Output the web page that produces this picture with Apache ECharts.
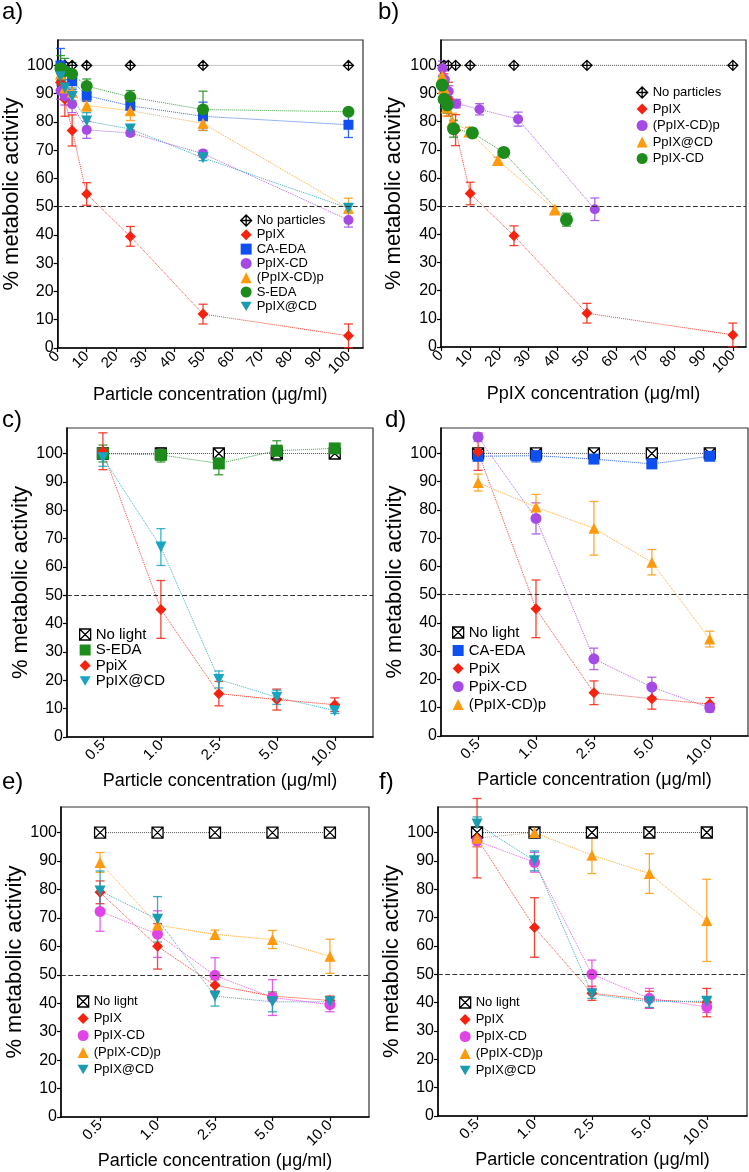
<!DOCTYPE html>
<html>
<head>
<meta charset="utf-8">
<script src="https://cdn.jsdelivr.net/npm/echarts@6/dist/echarts.min.js"></script>
<style>
  html, body { margin: 0; padding: 0; background: #fff; }
  #chart { width: 749px; height: 1172px; }
</style>
</head>
<body>
<div id="chart"></div>
<script>
// ---- data ----
const catLabels = ['0.5', '1.0', '2.5', '5.0', '10.0'];
const catIdx = [0, 1, 2, 3, 4];

// a) particle concentration
const aConc = [1, 2.5, 5, 10, 25, 50, 100];
const aNoParticles = [100, 100, 100, 100, 100, 100, 100];
const aPpIX = [94, 88, 77, 54.5, 39.5, 12, 4.3];
const aPpIXErr = [3, 6, 5.5, 4, 3.5, 3.5, 4.2];
const aCAEDA = [100, 98, 94.4, 89.3, 85.7, 82, 79];
const aCAEDAErr = [6, 3, 3, 2, 3, 5, 4.5];
const aPpIXCD = [91, 89, 86.3, 77.2, 76.1, 68.8, 45.3];
const aPpIXCDErr = [3, 3, 3, 3, 1, 1.2, 2.5];
const aPpIXCDp = [97, 92, 90.5, 85.8, 84, 79.5, 49.5];
const aPpIXCDpErr = [3, 3, 3, 2, 3.5, 2.5, 3.5];
const aSEDA = [99, 98, 97, 92.7, 88.8, 84.4, 83.6];
const aSEDAErr = [4.5, 4.5, 4, 2.5, 2.3, 6.5, 1];
const aPpIXatCD = [96, 92, 89, 80.3, 77.5, 67.3, 49.5];
const aPpIXatCDErr = [3, 3, 3, 3, 1.5, 1, 1.5];

// b) PpIX concentration
const bConcPpIX = [1, 2.5, 5, 10, 25, 50, 100];
const bConcCDp = [0.53, 1.32, 2.64, 5.27, 13.2, 26.4, 52.7];
const bConcAtCD = [0.39, 0.98, 1.95, 3.9, 9.75, 19.5, 39];
const bConcCD = [0.43, 1.08, 2.15, 4.3, 10.75, 21.5, 43];
const bNoParticles = [100, 100, 100, 100, 100, 100, 100];
const bPpIX = [94, 88, 77, 54.5, 39.5, 12, 4.3];
const bPpIXErr = [3, 6, 5.5, 4, 3.5, 3.5, 4.2];
const bPpIXCDp = [99, 95, 90.8, 86.4, 84.4, 80.9, 48.9];
const bPpIXCDpErr = [2.5, 3, 2, 1.5, 2, 2.5, 4];
const bPpIXatCD = [96, 92, 85, 80, 76.5, 66.4, 48.8];
const bPpIXatCDErr = [3, 3, 3, 3, 1.5, 1, 1];
const bPpIXCD = [93, 88, 86, 77.5, 76, 69.1, 45.2];
const bPpIXCDErr = [3, 3, 3, 3, 1, 1, 2.3];

// c)
const cNoLight = [100, 100, 100, 100, 100];
const cSEDA = [100, 99.5, 96.5, 101, 101.8];
const cSEDAErr = [3, 2.5, 4, 3.5, 1.5];
const cPpiX = [100.8, 45, 15.3, 13.2, 11.4];
const cPpiXErr = [6.5, 10.2, 4.3, 3.7, 2.4];
const cPpIXatCD = [98.5, 67, 20.3, 14, 9.3];
const cPpIXatCDErr = [3, 6.5, 3, 2.5, 1];

// d)
const dNoLight = [100, 100, 100, 100, 100];
const dCAEDA = [99, 99.2, 98, 96.3, 99];
const dCAEDAErr = [1.5, 2.2, 1.5, 1, 1];
const dPpiX = [100.5, 45, 15.3, 13.2, 11.3];
const dPpiXErr = [6.5, 10.2, 4.2, 3.7, 2.3];
const dPpiXCD = [105.8, 77, 27.3, 17.3, 10];
const dPpiXCDErr = [1.5, 5.5, 3.8, 3.5, 1.5];
const dPpIXCDp = [89.7, 81, 73.5, 61.5, 34.3];
const dPpIXCDpErr = [3, 4.5, 9.5, 4.5, 2.8];

// e)
const eNoLight = [100, 100, 100, 100, 100];
const ePpIX = [79, 60, 46.3, 42.5, 41];
const ePpIXErr = [4, 8, 2, 1, 1.5];
const ePpIXCD = [72.3, 64.3, 49.8, 42, 39.5];
const ePpIXCDErr = [7, 8.2, 6.2, 6.3, 2.5];
const ePpIXCDp = [89.5, 67.5, 64.2, 62.4, 56.5];
const ePpIXCDpErr = [3.5, 3.5, 1.5, 3.2, 6];
const ePpIXatCD = [79.5, 69.5, 42.5, 40.5, 40.5];
const ePpIXatCDErr = [7, 8, 3.5, 3.5, 1.5];

// f)
const fNoLight = [100, 100, 100, 100, 100];
const fPpIX = [98, 66.5, 43.3, 41, 40];
const fPpIXErr = [14, 10.5, 2.5, 3, 5];
const fPpIXCD = [97, 89.5, 50, 41.5, 38.5];
const fPpIXCDErr = [2, 3.5, 5, 3.5, 2];
const fPpIXCDp = [98, 100, 92, 85.5, 69];
const fPpIXCDpErr = [3, 1, 6.5, 7, 14.5];
const fPpIXatCD = [103, 90, 43, 40.3, 40.5];
const fPpIXatCDErr = [2.5, 3.5, 1.5, 2, 1];

const yTicks = [0, 10, 20, 30, 40, 50, 60, 70, 80, 90, 100];
const concTicks = [0, 10, 20, 30, 40, 50, 60, 70, 80, 90, 100];

// ---- styles ----
const FONT = 'Liberation Sans, Arial, sans-serif';
const RED = '#f5220f', BLUE = '#0d4ff0', PURPLE = '#a64ae6', ORANGE = '#ff9a0e',
  GREEN = '#1d8c1d', TEAL = '#1a9cb0', MAGENTA = '#e044e6';
const NP_ICON = 'path://M0,-10L10,0L0,10L-10,0Z M0,-10L0,10 M-10,0L10,0';
const NL_ICON = 'path://M-10,-10L10,-10L10,10L-10,10Z M-10,-10L10,10 M10,-10L-10,10';
const DOWN_TRI = 'path://M-10,-8L10,-8L0,9Z';

const panels = [
  {key: 'a', grid: {left: 55, top: 40, width: 308, height: 308}, xMin: 0, xMax: 105, xTicks: concTicks,
    xName: 'Particle concentration (μg/ml)', yGap: 33, xGap: 38,
    legend: {left: 240, top: 214, gap: 1.3, font: 13},
    sets: [
      {name: 'No particles', xs: aConc, ys: aNoParticles, color: '#000', symbol: NP_ICON, size: 10, open: true, line: '#777'},
      {name: 'PpIX', xs: aConc, ys: aPpIX, err: aPpIXErr, color: RED, symbol: 'diamond', size: 11},
      {name: 'CA-EDA', xs: aConc, ys: aCAEDA, err: aCAEDAErr, color: BLUE, symbol: 'rect', size: 10},
      {name: 'PpIX-CD', xs: aConc, ys: aPpIXCD, err: aPpIXCDErr, color: PURPLE, symbol: 'circle', size: 10},
      {name: '(PpIX-CD)p', xs: aConc, ys: aPpIXCDp, err: aPpIXCDpErr, color: ORANGE, symbol: 'triangle', size: 11},
      {name: 'S-EDA', xs: aConc, ys: aSEDA, err: aSEDAErr, color: GREEN, symbol: 'circle', size: 12},
      {name: 'PpIX@CD', xs: aConc, ys: aPpIXatCD, err: aPpIXatCDErr, color: TEAL, symbol: DOWN_TRI, size: 11}
    ]},
  {key: 'b', grid: {left: 441, top: 40, width: 305, height: 307}, xMin: 0, xMax: 104.5, xTicks: concTicks,
    xName: 'PpIX concentration (μg/ml)', yGap: 36, xGap: 38,
    legend: {left: 636, top: 86, gap: 3.5, font: 13},
    sets: [
      {name: 'No particles', xs: bConcPpIX, ys: bNoParticles, color: '#000', symbol: NP_ICON, size: 10, open: true, line: '#333'},
      {name: 'PpIX', xs: bConcPpIX, ys: bPpIX, err: bPpIXErr, color: RED, symbol: 'diamond', size: 11},
      {name: '(PpIX-CD)p', xs: bConcCDp, ys: bPpIXCDp, err: bPpIXCDpErr, color: PURPLE, symbol: 'circle', size: 10},
      {name: 'PpIX@CD', xs: bConcAtCD, ys: bPpIXatCD, err: bPpIXatCDErr, color: ORANGE, symbol: 'triangle', size: 12},
      {name: 'PpIX-CD', xs: bConcCD, ys: bPpIXCD, err: bPpIXCDErr, color: GREEN, symbol: 'circle', size: 13}
    ]},
  {key: 'c', grid: {left: 67, top: 428, width: 306, height: 309}, xMin: -0.62, xMax: 4.66, xTicks: catIdx, cat: true,
    xName: 'Particle concentration (μg/ml)', yGap: 35, xGap: 34,
    legend: {left: 79, top: 627, gap: 0.5, font: 15},
    sets: [
      {name: 'No light', xs: catIdx, ys: cNoLight, color: '#000', symbol: NL_ICON, size: 11, open: true, line: '#333'},
      {name: 'S-EDA', xs: catIdx, ys: cSEDA, err: cSEDAErr, color: GREEN, symbol: 'rect', size: 12},
      {name: 'PpiX', xs: catIdx, ys: cPpiX, err: cPpiXErr, color: RED, symbol: 'diamond', size: 11},
      {name: 'PpIX@CD', xs: catIdx, ys: cPpIXatCD, err: cPpIXatCDErr, color: '#17a5c2', symbol: DOWN_TRI, size: 11}
    ]},
  {key: 'd', grid: {left: 441, top: 428, width: 307, height: 308}, xMin: -0.64, xMax: 4.66, xTicks: catIdx, cat: true,
    xName: 'Particle concentration (μg/ml)', yGap: 34, xGap: 34,
    legend: {left: 452, top: 625, gap: 3, font: 15},
    sets: [
      {name: 'No light', xs: catIdx, ys: dNoLight, color: '#000', symbol: NL_ICON, size: 11, open: true, line: '#333'},
      {name: 'CA-EDA', xs: catIdx, ys: dCAEDA, err: dCAEDAErr, color: BLUE, symbol: 'rect', size: 11},
      {name: 'PpiX', xs: catIdx, ys: dPpiX, err: dPpiXErr, color: RED, symbol: 'diamond', size: 11},
      {name: 'PpiX-CD', xs: catIdx, ys: dPpiXCD, err: dPpiXCDErr, color: PURPLE, symbol: 'circle', size: 11},
      {name: '(PpIX-CD)p', xs: catIdx, ys: dPpIXCDp, err: dPpIXCDpErr, color: ORANGE, symbol: 'triangle', size: 11}
    ]},
  {key: 'e', grid: {left: 61, top: 807, width: 308, height: 310}, xMin: -0.68, xMax: 4.68, xTicks: catIdx, cat: true,
    xName: 'Particle concentration (μg/ml)', yGap: 29, xGap: 33,
    legend: {left: 77, top: 995, gap: 4, font: 13},
    sets: [
      {name: 'No light', xs: catIdx, ys: eNoLight, color: '#000', symbol: NL_ICON, size: 11, open: true, line: '#333'},
      {name: 'PpIX', xs: catIdx, ys: ePpIX, err: ePpIXErr, color: RED, symbol: 'diamond', size: 11},
      {name: 'PpIX-CD', xs: catIdx, ys: ePpIXCD, err: ePpIXCDErr, color: MAGENTA, symbol: 'circle', size: 11},
      {name: '(PpIX-CD)p', xs: catIdx, ys: ePpIXCDp, err: ePpIXCDpErr, color: ORANGE, symbol: 'triangle', size: 11},
      {name: 'PpIX@CD', xs: catIdx, ys: ePpIXatCD, err: ePpIXatCDErr, color: TEAL, symbol: DOWN_TRI, size: 11}
    ]},
  {key: 'f', grid: {left: 438, top: 807, width: 309, height: 309}, xMin: -0.68, xMax: 4.7, xTicks: catIdx, cat: true,
    xName: 'Particle concentration (μg/ml)', yGap: 30, xGap: 33,
    legend: {left: 459, top: 996, gap: 4, font: 13},
    sets: [
      {name: 'No light', xs: catIdx, ys: fNoLight, color: '#000', symbol: NL_ICON, size: 11, open: true, line: '#333'},
      {name: 'PpIX', xs: catIdx, ys: fPpIX, err: fPpIXErr, color: RED, symbol: 'diamond', size: 11},
      {name: 'PpIX-CD', xs: catIdx, ys: fPpIXCD, err: fPpIXCDErr, color: MAGENTA, symbol: 'circle', size: 11},
      {name: '(PpIX-CD)p', xs: catIdx, ys: fPpIXCDp, err: fPpIXCDpErr, color: ORANGE, symbol: 'triangle', size: 11},
      {name: 'PpIX@CD', xs: catIdx, ys: fPpIXatCD, err: fPpIXatCDErr, color: TEAL, symbol: DOWN_TRI, size: 11}
    ]}
];

const labelPos = [
  {text: 'a)', left: 2, top: 0}, {text: 'b)', left: 378, top: 0},
  {text: 'c)', left: 2, top: 408}, {text: 'd)', left: 385, top: 408},
  {text: 'e)', left: 2, top: 770}, {text: 'f)', left: 379, top: 770}
];

const option = {
  backgroundColor: '#fff',
  animation: false,
  textStyle: {fontFamily: FONT},
  title: labelPos.map(l => ({
    text: l.text, left: l.left, top: l.top, padding: 0,
    textStyle: {fontSize: 24, fontWeight: 'normal', color: '#000', fontFamily: FONT}
  })),
  grid: [], xAxis: [], yAxis: [], legend: [], series: []
};

function errSeries(gi, xs, ys, err, color) {
  return {
    type: 'custom', name: 'err', xAxisIndex: gi, yAxisIndex: gi, silent: true, z: 2,
    encode: {x: 0, y: 1},
    data: xs.map((x, i) => [x, ys[i], err[i]]),
    renderItem(params, api) {
      const x = api.value(0), y = api.value(1), e = api.value(2);
      const hi = api.coord([x, y + e]), lo = api.coord([x, y - e]);
      const w = 4.5;
      const style = {stroke: color, lineWidth: 1.3, fill: null, opacity: 0.85};
      return {type: 'group', children: [
        {type: 'line', shape: {x1: hi[0], y1: hi[1], x2: lo[0], y2: lo[1]}, style},
        {type: 'line', shape: {x1: hi[0] - w, y1: hi[1], x2: hi[0] + w, y2: hi[1]}, style},
        {type: 'line', shape: {x1: lo[0] - w, y1: lo[1], x2: lo[0] + w, y2: lo[1]}, style}
      ]};
    }
  };
}

panels.forEach((p, gi) => {
  option.grid.push(Object.assign({show: true, borderColor: '#333', borderWidth: 1.2, backgroundColor: 'transparent'}, p.grid));
  option.xAxis.push({
    type: 'value', gridIndex: gi, min: p.xMin, max: p.xMax,
    name: p.xName, nameLocation: 'middle', nameGap: p.xGap,
    nameTextStyle: {fontSize: 18, color: '#000', fontFamily: FONT},
    axisLine: {onZero: false, lineStyle: {color: '#000', width: 1.5}},
    axisTick: {customValues: p.xTicks, length: 4, lineStyle: {color: '#000', width: 1.2}},
    axisLabel: {
      customValues: p.xTicks, rotate: 45, fontSize: 15, color: '#000', margin: 6,
      formatter: v => p.cat ? catLabels[Math.round(v)] : String(v)
    },
    splitLine: {show: false}
  });
  option.yAxis.push({
    type: 'value', gridIndex: gi, min: 0, max: 109,
    name: '% metabolic activity', nameLocation: 'middle', nameGap: p.yGap,
    nameTextStyle: {fontSize: 22, color: '#000', fontFamily: FONT},
    axisLine: {show: true, onZero: false, lineStyle: {color: '#000', width: 1.5}},
    axisTick: {show: true, customValues: yTicks, length: 4, lineStyle: {color: '#000', width: 1.2}},
    axisLabel: {customValues: yTicks, fontSize: 16, color: '#000', margin: 4},
    splitLine: {show: false}
  });

  const legendData = [];
  p.sets.forEach((s, si) => {
    const sname = p.key + '|' + s.name;
    const itemStyle = s.open
      ? {color: '#fff', borderColor: s.color, borderWidth: 1.3}
      : {color: s.color};
    const ser = {
      type: 'line', name: sname, xAxisIndex: gi, yAxisIndex: gi, z: 3,
      data: s.xs.map((x, i) => [x, s.ys[i]]),
      symbol: s.symbol, symbolSize: s.size, itemStyle,
      lineStyle: {color: s.line || s.color, width: 1, type: 'dotted', opacity: 0.85}
    };
    if (si === 0) {
      ser.markLine = {
        silent: true, symbol: 'none', label: {show: false},
        lineStyle: {color: '#333', type: 'dashed', width: 1.2},
        data: [{yAxis: 50}]
      };
    }
    if (s.err) option.series.push(errSeries(gi, s.xs, s.ys, s.err, s.color));
    option.series.push(ser);
    legendData.push({name: sname, icon: s.symbol, itemStyle});
  });

  option.legend.push({
    orient: 'vertical', left: p.legend.left, top: p.legend.top, padding: 0,
    itemGap: p.legend.gap, itemWidth: 11, itemHeight: 11,
    selectedMode: false, data: legendData,
    formatter: n => n.split('|')[1],
    textStyle: {fontSize: p.legend.font, lineHeight: p.legend.font, color: '#000', fontFamily: FONT}
  });
});

const chart = echarts.init(document.getElementById('chart'));
chart.setOption(option);
</script>
</body>
</html>
